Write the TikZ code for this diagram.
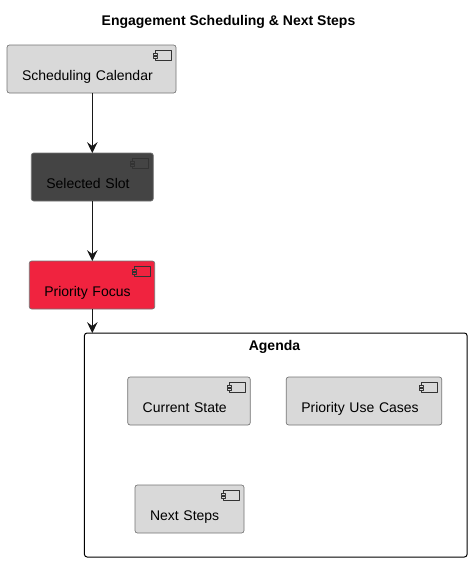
\documentclass[tikz,border=0pt]{standalone}
\usepackage{fontspec}
\setmainfont{Liberation Sans}
\usetikzlibrary{arrows.meta}
\definecolor{boxgray}{HTML}{D9D9D9}
\definecolor{slotgray}{HTML}{444444}
\definecolor{focusred}{HTML}{F0233F}
\definecolor{linedark}{HTML}{181818}
\begin{document}
\begin{tikzpicture}[x=0.75pt,y=-0.75pt,line join=round,
    compbox/.style={draw=black!55,line width=0.5pt,rounded corners=1.8pt,font=\fontsize{10.5}{12}\selectfont,
      inner xsep=11.25pt,inner ysep=6.75pt,outer sep=0pt,text height=19.5pt,text depth=3pt,align=left,text width=#1},
    flow/.style={draw=linedark,line width=0.75pt,-{Stealth[length=8.2pt,width=8pt,inset=3pt]}},
    pics/compicon/.style={code={
      \draw[draw=black!80,line width=0.35pt] (-21,5) rectangle (-5,15.7);
      \draw[draw=black!80,line width=0.35pt,fill=#1] (-22.7,8) rectangle (-18.7,10.2);
      \draw[draw=black!80,line width=0.35pt,fill=#1] (-22.7,11.2) rectangle (-18.7,13.4);
    }}]
  \useasboundingbox (0,0) rectangle (471,562);
  \node[font=\fontsize{10.5}{12}\selectfont\bfseries] (title) at (228.5,21.5) {Engagement Scheduling \& Next Steps};
  % left column
  \node[compbox=104.25pt,fill=boxgray] (calendar) at (91.5,69) {Scheduling Calendar};
  \node[compbox=69pt,fill=slotgray] (slot) at (92.3,177) {Selected Slot};
  \node[compbox=71.6pt,fill=focusred] (focus) at (92,285) {Priority Focus};
  % agenda package
  \node[draw=black,line width=0.75pt,rounded corners=2pt,minimum width=287pt,minimum height=168pt,inner sep=0pt,outer sep=0pt] (agenda) at (275.75,445) {};
  \node[font=\fontsize{10.5}{12}\selectfont\bfseries] (agendatitle) at (274.5,346.5) {Agenda};
  \node[compbox=69.4pt,fill=boxgray] (state) at (189,401) {Current State};
  \node[compbox=94.1pt,fill=boxgray] (usecases) at (364,401) {Priority Use Cases};
  \node[compbox=59.25pt,fill=boxgray] (next) at (189.5,509) {Next Steps};
  % component icons
  \pic at (calendar.north east) {compicon=boxgray};
  \pic at (slot.north east) {compicon=slotgray};
  \pic at (focus.north east) {compicon=focusred};
  \pic at (state.north east) {compicon=boxgray};
  \pic at (usecases.north east) {compicon=boxgray};
  \pic at (next.north east) {compicon=boxgray};
  % arrows
  \draw[flow] (slot.north |- calendar.south) -- (slot.north);
  \draw[flow] (slot.south) -- (slot.south |- focus.north);
  \draw[flow] (slot.south |- focus.south) -- (slot.south |- agenda.north);
\end{tikzpicture}
\end{document}
